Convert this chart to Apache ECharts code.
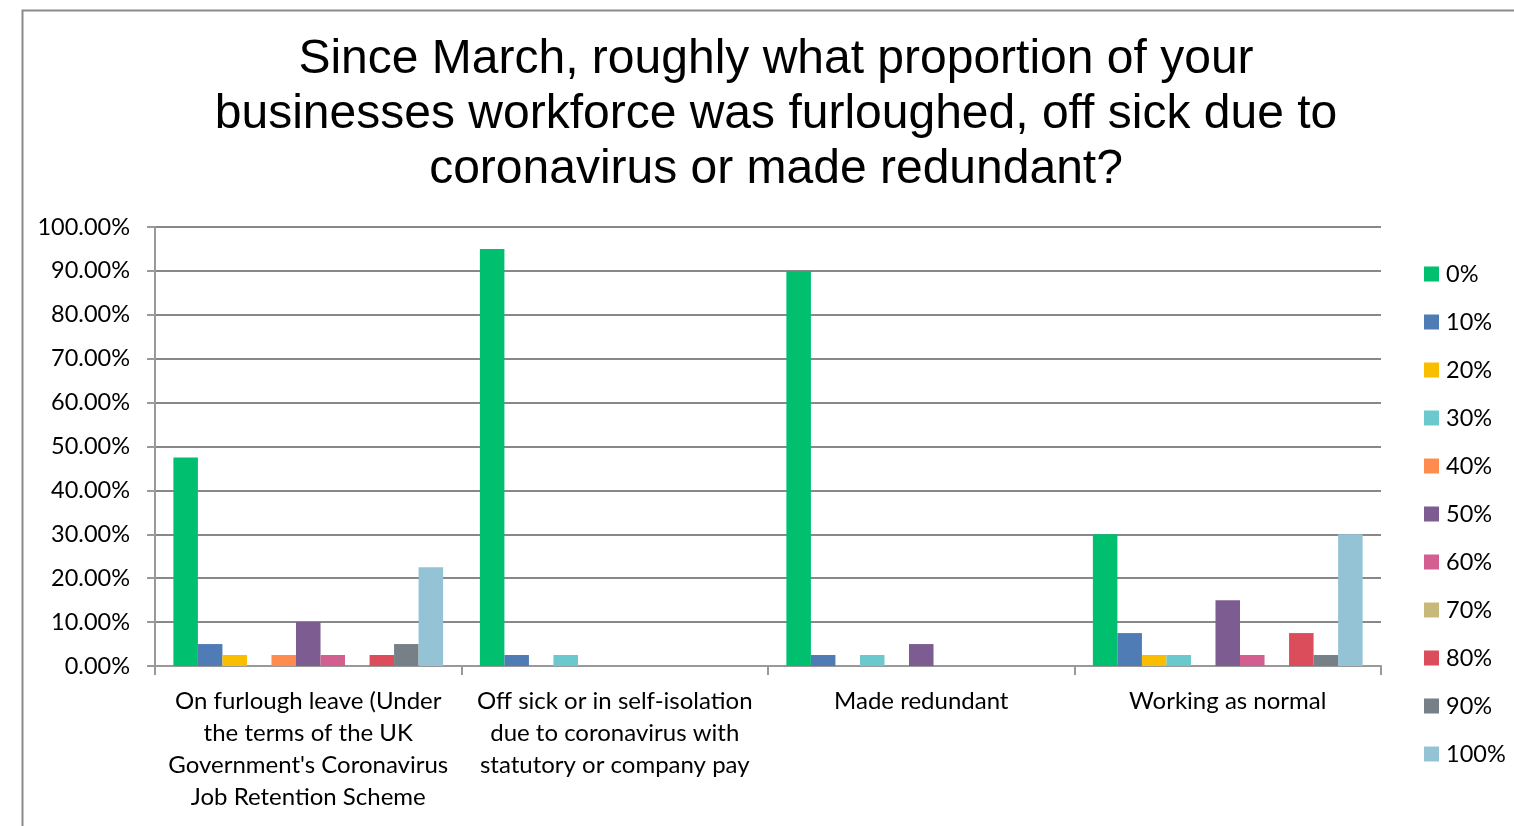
<!DOCTYPE html>
<html><head><meta charset="utf-8">
<script src="https://cdn.jsdelivr.net/npm/echarts@6/dist/echarts.min.js"></script>
<style>html,body{margin:0;padding:0;background:#fff}#c{width:1514px;height:826px}</style>
</head><body><div id="c"></div>
<script>
const categories = [
  "On furlough leave (Under\nthe terms of the UK\nGovernment's Coronavirus\nJob Retention Scheme",
  "Off sick or in self-isolation\ndue to coronavirus with\nstatutory or company pay",
  "Made redundant",
  "Working as normal"
];
const seriesNames = ["0%","10%","20%","30%","40%","50%","60%","70%","80%","90%","100%"];
const s0   = [47.5, 95, 90, 30];
const s10  = [5, 2.5, 2.5, 7.5];
const s20  = [2.5, 0, 0, 2.5];
const s30  = [0, 2.5, 2.5, 2.5];
const s40  = [2.5, 0, 0, 0];
const s50  = [10, 0, 5, 15];
const s60  = [2.5, 0, 0, 2.5];
const s70  = [0, 0, 0, 0];
const s80  = [2.5, 0, 0, 7.5];
const s90  = [5, 0, 0, 2.5];
const s100 = [22.5, 0, 0, 30];
const seriesValues = [s0,s10,s20,s30,s40,s50,s60,s70,s80,s90,s100];
const colors = ["#00BF6F","#507CB6","#F9BE00","#6BC8CD","#FF8B4F","#7D5C91","#D25F90","#C8B87A","#DB4D5B","#777F87","#93C3D5"];

const chart = echarts.init(document.getElementById('c'));
chart.setOption({
  animation: false,
  color: colors,
  graphic: [{
    type: 'rect', left: 20, top: 8, silent: true,
    shape: { x: 0, y: 0, width: 1520, height: 840 },
    style: { fill: 'none', stroke: '#8a8a8a', lineWidth: 2 }
  }],
  title: {
    text: "Since March, roughly what proportion of your\nbusinesses workforce was furloughed, off sick due to\ncoronavirus or made redundant?",
    left: 771, textAlign: 'center', top: 27,
    textStyle: { fontFamily: 'Liberation Sans', fontSize: 48, fontWeight: 'normal', color: '#000', lineHeight: 55 }
  },
  legend: {
    orient: 'vertical', left: 1424, top: 260, padding: 0,
    itemWidth: 15, itemHeight: 15, itemGap: 20,
    icon: 'rect',
    textStyle: { fontFamily: 'Lato', fontSize: 23.5, color: '#000', padding: [0,0,0,2], lineHeight: 28 },
    data: seriesNames
  },
  grid: { left: 155, right: 133, top: 227, bottom: 160 },
  xAxis: {
    type: 'category', data: categories,
    axisLine: { lineStyle: { color: '#999', width: 2 } },
    axisTick: { show: true, length: 9, alignWithLabel: false, lineStyle: { color: '#999', width: 2 } },
    axisLabel: { interval: 0, margin: 19, fontFamily: 'Lato', fontSize: 24, color: '#000', lineHeight: 32 }
  },
  yAxis: {
    type: 'value', min: 0, max: 100, interval: 10,
    axisLine: { show: true, lineStyle: { color: '#999', width: 2 } },
    axisTick: { show: true, length: 8, lineStyle: { color: '#999', width: 2 } },
    splitLine: { lineStyle: { color: '#888', width: 2 } },
    axisLabel: { margin: 25, fontFamily: 'Lato', fontSize: 23.5, color: '#000', formatter: v => v.toFixed(2) + '%' }
  },
  series: seriesNames.map((n, i) => ({
    name: n, type: 'bar', data: seriesValues[i],
    barGap: '0%', barCategoryGap: '12%'
  }))
});
</script></body></html>
